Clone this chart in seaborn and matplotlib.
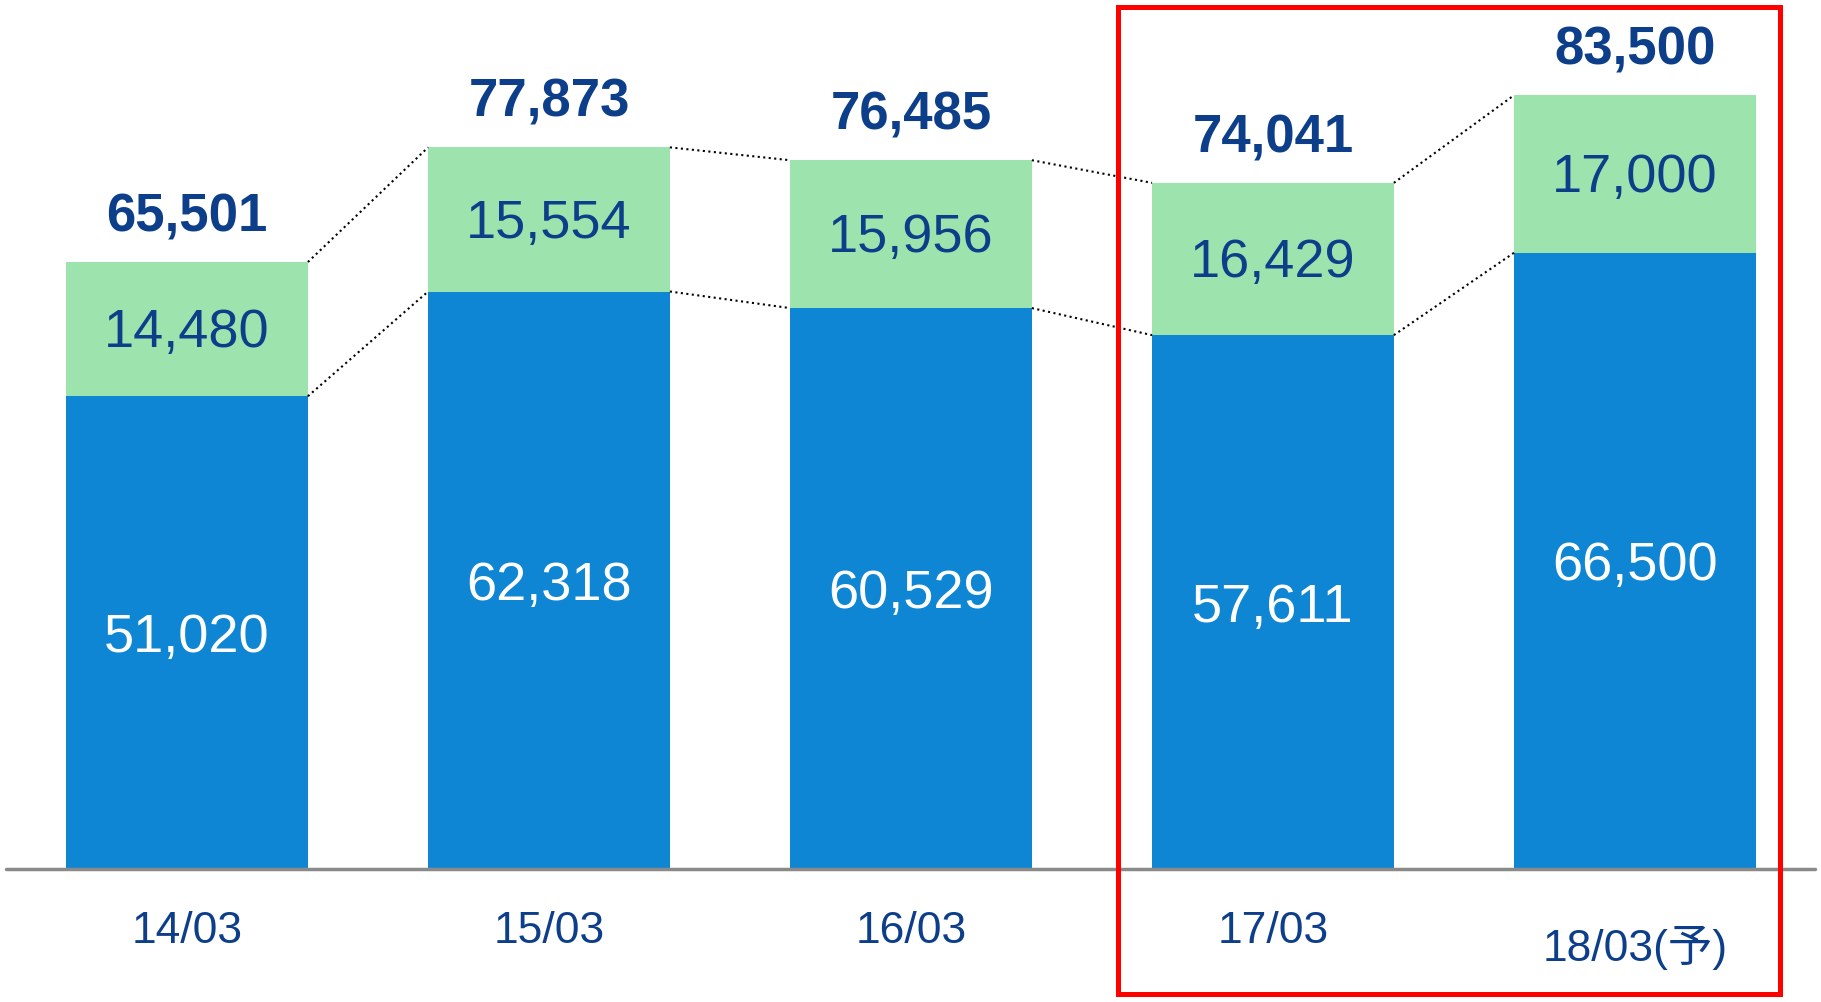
import matplotlib
matplotlib.use('Agg')
import matplotlib.pyplot as plt
import matplotlib.patches as patches
import seaborn as sns
import pandas as pd

# values
periods = ['14/03', '15/03', '16/03', '17/03', '18/03(予)']
blue_vals = [51020, 62318, 60529, 57611, 66500]
green_vals = [14480, 15554, 15956, 16429, 17000]
totals = [65501, 77873, 76485, 74041, 83500]

blue_col = '#0E86D4'
green_col = '#9DE3AE'
text_col = '#0D3E8A'
bar_w = 0.668

sns.set_theme(style='white')
plt.rcParams['font.family'] = ['Liberation Sans', 'Noto Sans CJK JP', 'DejaVu Sans']

df = pd.DataFrame({'period': periods, 'blue': blue_vals, 'green': green_vals, 'total': totals})

fig = plt.figure(figsize=(18.21, 10.02), dpi=100)
ax = fig.add_axes([0, 0.1327, 1, 0.8673])

# green drawn full height, blue on top of it -> stacked look
sns.barplot(data=df, x='period', y='total', color=green_col, width=bar_w,
            saturation=1, linewidth=0, ax=ax)
sns.barplot(data=df, x='period', y='blue', color=blue_col, width=bar_w,
            saturation=1, linewidth=0, ax=ax)

ax.set_xlim(-0.5166, 4.514)
ax.set_ylim(0, 93774)
ax.axis('off')

# baseline
ax.axhline(0, xmin=0.0033, xmax=0.9967, color='#8a8a8a', lw=2.5, clip_on=False)

# dotted connectors between bar tops
for i in range(len(periods) - 1):
    x0 = i + bar_w / 2
    x1 = i + 1 - bar_w / 2
    ax.plot([x0, x1], [totals[i], totals[i + 1]], ls=':', color='black', lw=1.5)
    ax.plot([x0, x1], [blue_vals[i], blue_vals[i + 1]], ls=':', color='black', lw=1.5)

for i in range(len(periods)):
    ax.annotate(f'{blue_vals[i]:,}', xy=(i, blue_vals[i] / 2), xytext=(0, -4),
                textcoords='offset points', ha='center', va='center',
                color='white', fontsize=39)
    ax.annotate(f'{green_vals[i]:,}', xy=(i, blue_vals[i] + green_vals[i] / 2),
                xytext=(0, -3), textcoords='offset points', ha='center',
                va='center', color=text_col, fontsize=39)
    ax.annotate(f'{totals[i]:,}', xy=(i, totals[i]), xytext=(0, 32),
                textcoords='offset points', ha='center', va='center',
                color=text_col, fontsize=38, fontweight='bold')
    off = -57 if i == len(periods) - 1 else -45
    ax.annotate(periods[i], xy=(i, 0), xytext=(0, off), textcoords='offset points',
                ha='center', va='center', color=text_col, fontsize=32,
                annotation_clip=False)

# red highlight box around the last two periods
fig.patches.append(patches.Rectangle((0.614, 0.008), 0.3635, 0.985, fill=False,
                                     edgecolor='#FF0000', lw=3.6,
                                     transform=fig.transFigure, figure=fig))

fig.savefig('out.png', dpi=100)
